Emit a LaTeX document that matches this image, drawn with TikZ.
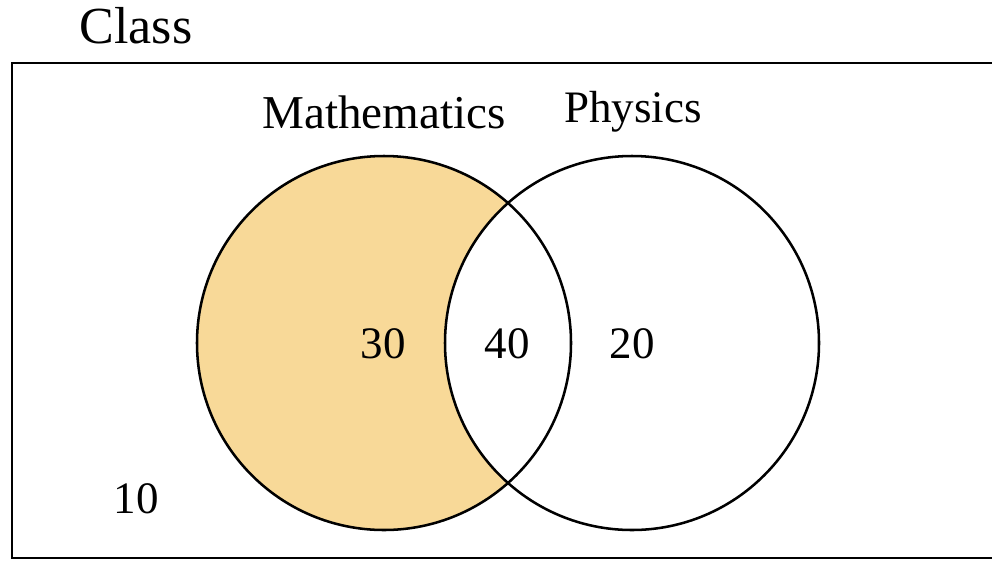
\documentclass[tikz,border=0pt]{standalone}
\usepackage{fontspec}
\setmainfont{Liberation Serif}
\definecolor{mathfill}{RGB}{248,217,152}
\begin{document}
\begin{tikzpicture}[x=0.025cm,y=-0.025cm,
    setc/.style={draw=black,line width=1.8pt},
    lbl/.style={anchor=base,inner sep=0pt,font=\fontsize{32}{38}\selectfont},
    every node/.style={font=\fontsize{32}{38}\selectfont}]
  \useasboundingbox (0,0) rectangle (992,561);
  \coordinate (M) at (384,343);
  \coordinate (P) at (632,343);
  % the class
  \begin{scope}
    \clip (0,0) rectangle (992,561);
    \draw[line width=2pt] (12,63) rectangle (1040,558);
  \end{scope}
  \node[lbl,font=\fontsize{37}{44}\selectfont] (class) at (136,43) {Class};
  % the two sets
  \fill[mathfill] (M) circle (187);
  \fill[white] (P) circle (187);
  \draw[setc] (M) circle (187);
  \draw[setc] (P) circle (187);
  \node[lbl,font=\fontsize{33.5}{40}\selectfont] (math) at (384,128) {Mathematics};
  \node[lbl] (phys) at (633,122) {Physics};
  % counts
  \node[lbl] (onlym) at (383,358) {30};
  \node[lbl] (both)  at (507,358) {40};
  \node[lbl] (onlyp) at (632,358) {20};
  \node[lbl] (none)  at (136,513) {10};
\end{tikzpicture}
\end{document}
